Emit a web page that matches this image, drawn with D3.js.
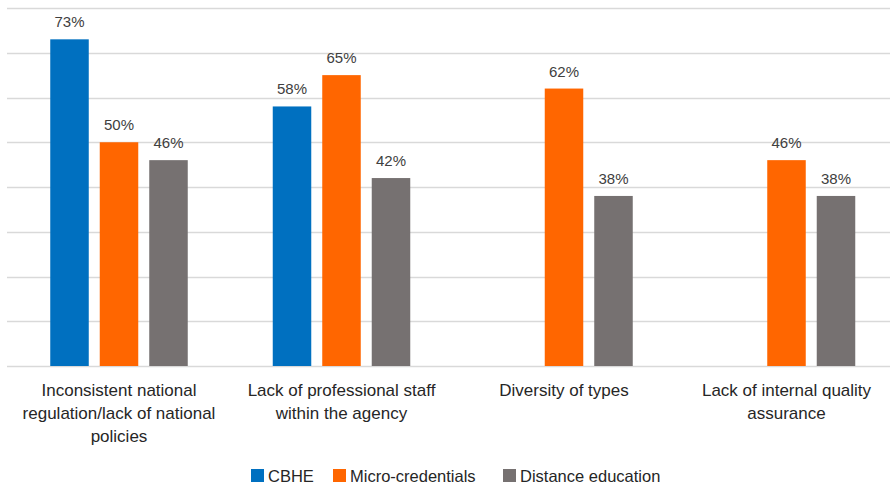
<!DOCTYPE html>
<html><head><meta charset="utf-8">
<script src="https://cdn.jsdelivr.net/npm/d3@7"></script>
<style>body{margin:0;background:#fff}svg{display:block}</style>
</head><body>
<svg id="c" width="890" height="485"></svg>
<script>
const categories = [
  ["Inconsistent national", "regulation/lack of national", "policies"],
  ["Lack of professional staff", "within the agency"],
  ["Diversity of types"],
  ["Lack of internal quality", "assurance"]
];
const seriesNames = ["CBHE", "Micro-credentials", "Distance education"];
const cbhe = [73, 58, null, null];
const microCredentials = [50, 65, 62, 46];
const distanceEducation = [46, 42, 38, 38];
const yTicks = [0, 10, 20, 30, 40, 50, 60, 70, 80];
const colors = ["#0070C0", "#FF6600", "#767171"];

const series = [cbhe, microCredentials, distanceEducation];
const svg = d3.select("#c");
const font = "'Liberation Sans', Arial, sans-serif";

const x0 = d3.scaleBand().domain(d3.range(categories.length)).range([7.75, 897.75]).paddingInner(0).paddingOuter(0);
const x1 = d3.scaleBand().domain(d3.range(series.length)).range([42.5, 222.5 - 42.5]).paddingInner(0.222).paddingOuter(0);
const y = d3.scaleLinear().domain([0, 80]).range([366, 8]);

// gridlines
svg.append("g").selectAll("line").data(yTicks).join("line")
  .attr("x1", 7).attr("x2", 890)
  .attr("y1", d => Math.round(y(d)) + 0.5).attr("y2", d => Math.round(y(d)) + 0.5)
  .attr("stroke", "#d9d9d9").attr("stroke-width", 1.3);

// bars
const g = svg.append("g");
series.forEach((vals, si) => {
  const data = vals.map((v, ci) => ({v, ci})).filter(d => d.v != null);
  g.selectAll(".b" + si).data(data).join("rect")
    .attr("x", d => x0(d.ci) + x1(si))
    .attr("width", x1.bandwidth())
    .attr("y", d => y(d.v))
    .attr("height", d => y(0) - y(d.v))
    .attr("fill", colors[si]);
  g.selectAll(".l" + si).data(data).join("text")
    .attr("x", d => x0(d.ci) + x1(si) + x1.bandwidth() / 2)
    .attr("y", d => y(d.v) - 12)
    .attr("text-anchor", "middle")
    .attr("font-family", font).attr("font-size", 15).attr("fill", "#404040")
    .text(d => d.v + "%");
});

// category labels
categories.forEach((lines, ci) => {
  const t = svg.append("text")
    .attr("x", x0(ci) + x0.bandwidth() / 2)
    .attr("y", 396)
    .attr("text-anchor", "middle")
    .attr("font-family", font).attr("font-size", 17).attr("fill", "#262626");
  lines.forEach((ln, i) => t.append("tspan").attr("x", x0(ci) + x0.bandwidth() / 2).attr("dy", i === 0 ? 0 : 23).text(ln));
});

// legend
const legX = [251, 333, 503];
seriesNames.forEach((n, i) => {
  svg.append("rect").attr("x", legX[i]).attr("y", 469).attr("width", 13).attr("height", 13).attr("fill", colors[i]);
  svg.append("text").attr("x", legX[i] + 17).attr("y", 481.5)
    .attr("font-family", font).attr("font-size", 16.5).attr("fill", "#262626").text(n);
});
</script>
</body></html>
